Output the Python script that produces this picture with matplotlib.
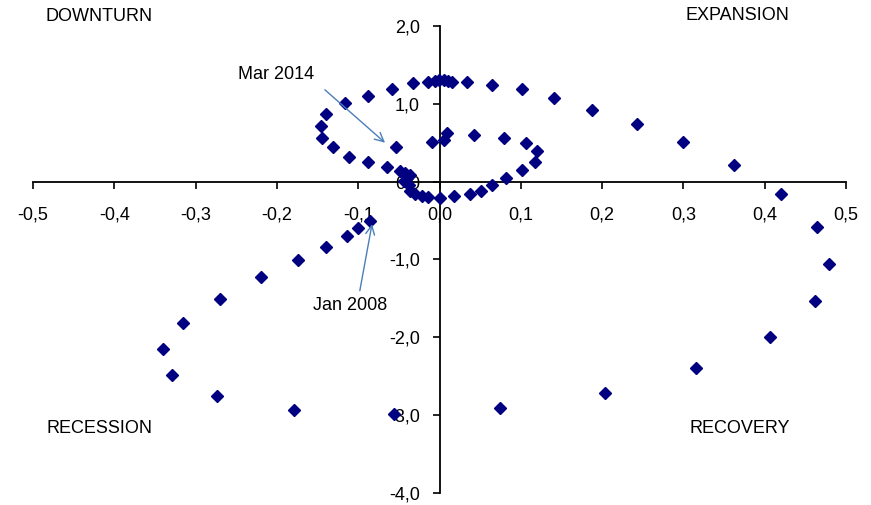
import matplotlib
matplotlib.use("Agg")
import matplotlib.pyplot as plt
from matplotlib.ticker import FuncFormatter

# monthly points, Jan 2008 -> Mar 2014
x_vals = [
    -0.086, -0.100, -0.114, -0.140, -0.174, -0.220, -0.270, -0.316, -0.340, -0.329,
    -0.274, -0.179, -0.056, 0.074, 0.204, 0.316, 0.406, 0.462, 0.479, 0.464,
    0.420, 0.362, 0.300, 0.243, 0.188, 0.141, 0.101, 0.064, 0.034, 0.015,
    0.010, 0.005, -0.001, -0.006, -0.014, -0.032, -0.058, -0.088, -0.116, -0.140,
    -0.146, -0.144, -0.131, -0.111, -0.088, -0.065, -0.049, -0.042, -0.036, -0.040,
    -0.044, -0.038, -0.036, -0.030, -0.022, -0.014, 0.000, 0.018, 0.037, 0.051,
    0.064, 0.082, 0.102, 0.118, 0.120, 0.106, 0.079, 0.043, 0.009, 0.006,
    -0.009, -0.054,
]
y_vals = [
    -0.50, -0.60, -0.70, -0.84, -1.01, -1.23, -1.51, -1.81, -2.15, -2.49,
    -2.75, -2.93, -2.99, -2.91, -2.71, -2.39, -1.99, -1.53, -1.06, -0.58,
    -0.16, 0.21, 0.51, 0.74, 0.92, 1.08, 1.19, 1.24, 1.28, 1.285,
    1.29, 1.30, 1.30, 1.29, 1.28, 1.265, 1.195, 1.105, 1.005, 0.87,
    0.71, 0.56, 0.44, 0.32, 0.25, 0.19, 0.14, 0.108, 0.086, 0.044,
    0.009, -0.042, -0.12, -0.165, -0.19, -0.195, -0.205, -0.18, -0.158, -0.115,
    -0.038, 0.047, 0.146, 0.257, 0.39, 0.49, 0.56, 0.60, 0.63, 0.54,
    0.51, 0.44,
]

quadrants = ["DOWNTURN", "EXPANSION", "RECESSION", "RECOVERY"]
x_ticks = [-0.5, -0.4, -0.3, -0.2, -0.1, 0.0, 0.1, 0.2, 0.3, 0.4, 0.5]
y_ticks = [-4.0, -3.0, -2.0, -1.0, 0.0, 1.0, 2.0]

plt.rcParams["font.family"] = ["Liberation Sans", "DejaVu Sans"]
plt.rcParams["font.size"] = 13

fig = plt.figure(figsize=(8.71, 5.05), dpi=100)
ax = fig.add_axes([0.0379, 0.0238, 0.9334, 0.9248])

ax.plot(x_vals, y_vals, linestyle="none", marker="D", ms=6.2,
        color="#000080", mec="#000080", zorder=3)

ax.set_xlim(-0.5, 0.5)
ax.set_ylim(-4.0, 2.0)
ax.set_xticks(x_ticks)
ax.set_yticks(y_ticks)

comma = FuncFormatter(lambda v, p: f"{v:.1f}".replace(".", ",").replace("-0,0", "0,0"))
ax.xaxis.set_major_formatter(comma)
ax.yaxis.set_major_formatter(comma)

for s in ["top", "right"]:
    ax.spines[s].set_visible(False)
ax.spines["left"].set_position(("data", 0))
ax.spines["bottom"].set_position(("data", 0))
ax.spines["left"].set_linewidth(1.3)
ax.spines["bottom"].set_linewidth(1.3)
ax.tick_params(axis="x", direction="out", length=5, width=1.2, pad=13)
ax.tick_params(axis="y", direction="out", length=5, width=1.2, pad=9)
ax.patch.set_visible(False)

# quadrant names
ax.text(-0.485, 2.12, quadrants[0], ha="left", va="center", clip_on=False)
ax.text(0.303, 2.14, quadrants[1], ha="left", va="center", clip_on=False)
ax.text(-0.483, -3.17, quadrants[2], ha="left", va="center")
ax.text(0.308, -3.17, quadrants[3], ha="left", va="center")

arrow = dict(arrowstyle="->", color="#4a7ebb", lw=1.0, mutation_scale=16,
             shrinkA=0, shrinkB=0)
ax.annotate("", xy=(-0.067, 0.50), xytext=(-0.141, 1.18), arrowprops=arrow)
ax.text(-0.201, 1.37, "Mar 2014", ha="center", va="center")
ax.annotate("", xy=(-0.083, -0.545), xytext=(-0.098, -1.40), arrowprops=arrow)
ax.text(-0.110, -1.585, "Jan 2008", ha="center", va="center")

fig.savefig("out.png", dpi=100)
